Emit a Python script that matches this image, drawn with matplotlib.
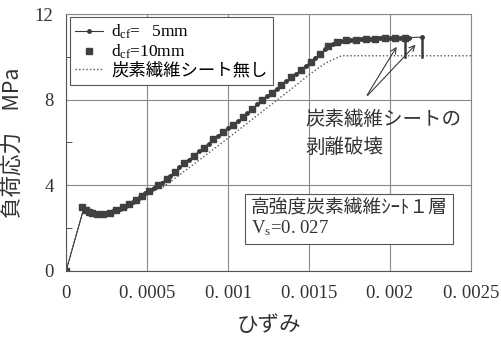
import numpy as np
import matplotlib
matplotlib.use("Agg")
from matplotlib import pyplot as plt
from matplotlib.ticker import FixedLocator, FixedFormatter

plt.rcParams['font.family'] = ['Liberation Serif', 'Noto Sans CJK JP', 'DejaVu Sans']
plt.rcParams['mathtext.fontset'] = 'custom'
plt.rcParams['mathtext.rm'] = 'Liberation Serif'
plt.rcParams['mathtext.it'] = 'Liberation Serif'

jp = ['Noto Sans CJK JP', 'DejaVu Sans']
mixed = ['Liberation Serif', 'Noto Sans CJK JP']

# d_cf = 5mm (line with small dots)
eps5 = [0, 0.00011, 0.00013, 0.00015, 0.00018, 0.00021, 0.00025, 0.00029, 0.00033,
        0.00037, 0.00041, 0.00045, 0.00049, 0.00054, 0.00059, 0.00064, 0.0007,
        0.00076, 0.00082, 0.00088, 0.00094, 0.001, 0.00106, 0.00112, 0.00118,
        0.00124, 0.0013, 0.00136, 0.00142, 0.00148, 0.00154, 0.0016, 0.00165,
        0.0017, 0.00176, 0.00182, 0.00188, 0.00194, 0.002, 0.00206, 0.00212,
        0.0022]
sig5 = [0, 2.95, 2.82, 2.74, 2.67, 2.64, 2.68, 2.78, 2.9,
        3.05, 3.22, 3.42, 3.62, 3.87, 4.12, 4.42, 4.84,
        5.2, 5.58, 5.95, 6.32, 6.66, 6.98, 7.36, 7.78,
        8.15, 8.52, 8.86, 9.2, 9.58, 9.95, 10.35, 10.62,
        10.76, 10.8, 10.82, 10.84, 10.86, 10.88, 10.9, 10.9,
        10.92]
drop5 = [10.92, 10.0]

# d_cf = 10mm (squares)
eps10 = [0, 0.0001, 0.00012, 0.00014, 0.00016, 0.00019, 0.00023, 0.00027, 0.00031,
         0.00035, 0.00039, 0.00043, 0.00047, 0.00051, 0.00057, 0.00062, 0.00067,
         0.00073, 0.00079, 0.00085, 0.00091, 0.00097, 0.00103, 0.00109, 0.00115,
         0.00121, 0.00127, 0.00133, 0.00139, 0.00145, 0.00151, 0.00157, 0.00162,
         0.00167, 0.00173, 0.00179, 0.00185, 0.00191, 0.00197, 0.00203, 0.00209]
sig10 = [0, 2.98, 2.86, 2.77, 2.7, 2.65, 2.65, 2.72, 2.83,
         2.97, 3.12, 3.32, 3.52, 3.72, 4.02, 4.3, 4.64,
         5.02, 5.38, 5.76, 6.14, 6.5, 6.82, 7.17, 7.56,
         7.96, 8.33, 8.7, 9.04, 9.4, 9.77, 10.15, 10.5,
         10.7, 10.78, 10.8, 10.82, 10.84, 10.86, 10.88, 10.9]
drop10 = [10.9, 10.0]

# no carbon fibre sheet (dotted)
eps0 = [0, 0.00011, 0.0002, 0.0003, 0.0004, 0.0005, 0.0006, 0.0008, 0.001,
        0.0012, 0.0014, 0.0015, 0.0016, 0.0017, 0.0025]
sig0 = [0, 2.95, 2.66, 2.8, 3.15, 3.6, 3.92, 5.05, 6.2,
        7.38, 8.55, 9.16, 9.7, 10.05, 10.05]

xticks = [0, 0.0005, 0.001, 0.0015, 0.002, 0.0025]
xticklabels = ['0', '0. 0005', '0. 001', '0. 0015', '0. 002', '0. 0025']
yticks = [0, 4, 8, 12]

fig = plt.figure(figsize=(5.01, 3.42), dpi=100)
ax = fig.add_axes([0.132, 0.208, 0.808, 0.751])

dark = '#3a3a3a'
ax.plot(eps0, sig0, ls=(0, (1, 1.6)), lw=1.0, color='#555555', label='炭素繊維シート無し')
ax.plot(eps5, sig5, '-', lw=0.8, color=dark, marker='o', ms=2.5,
        label='d$_{\\rm cf}$=\u2007\u20095mm')
ax.plot(eps10, sig10, 's', ls='none', ms=4.5, color='#404040', label='d$_{\\rm cf}$=10mm')
ax.plot([eps5[-1], eps5[-1]], drop5, '-', lw=1.8, color=dark)
ax.plot([eps10[-1], eps10[-1]], drop10, '-', lw=1.8, color=dark)

ax.set_xlim(0, 0.0025)
ax.set_ylim(0, 12)
ax.xaxis.set_major_locator(FixedLocator(xticks))
ax.xaxis.set_major_formatter(FixedFormatter(xticklabels))
ax.yaxis.set_major_locator(FixedLocator(yticks))
ax.yaxis.set_minor_locator(FixedLocator([2, 6, 10]))
ax.tick_params(axis='both', which='both', direction='in', labelsize=13.5, colors='#333333', pad=9)
ax.tick_params(axis='y', which='major', length=0)
ax.tick_params(axis='y', which='minor', length=4)
ax.tick_params(axis='x', which='major', length=0, pad=10)
ax.grid(True, color='#8a8a8a', lw=0.8)
for s in ['top', 'right']:
    ax.spines[s].set_color('#8a8a8a')
    ax.spines[s].set_linewidth(0.8)
for s in ['left', 'bottom']:
    ax.spines[s].set_color('#555555')

ax.set_xlabel('ひずみ', family=jp, fontsize=15.5, color='#333333', labelpad=9)
ax.set_ylabel('負荷応力　MPa', family=jp, fontsize=15.5, color='#333333', labelpad=8)

handles, labels = ax.get_legend_handles_labels()
order = [1, 2, 0]
leg = ax.legend([handles[i] for i in order], [labels[i] for i in order],
                loc='upper left', bbox_to_anchor=(0.0, 1.0),
                prop={'family': mixed, 'size': 12.5},
                frameon=True, fancybox=False, edgecolor='#555555', framealpha=1,
                handlelength=1.6, handletextpad=0.5, borderpad=0.3, labelspacing=0.1,
                borderaxespad=0.2)
leg.get_frame().set_linewidth(0.8)

ax.text(0.00148, 7.55, '炭素繊維シートの\n剥離破壊', family=jp, fontsize=14,
        color='#333333', va='top', ha='left', linespacing=1.45)
for tip in [(0.00205, 10.58), (0.00217, 10.66)]:
    ax.annotate('', xy=tip, xytext=(0.00185, 8.1),
                arrowprops=dict(arrowstyle='->', color=dark, lw=0.8))

ax.text(0.00114, 2.45, '高強度炭素繊維ｼｰﾄ１層\nV$_{\\rm s}$=0. 027', fontsize=13.5,
        family=mixed, color='#333333', va='center', ha='left',
        linespacing=1.15,
        bbox=dict(boxstyle='square,pad=0.3', fc='white', ec='#555555', lw=0.8))

fig.savefig('out.png', dpi=100)
